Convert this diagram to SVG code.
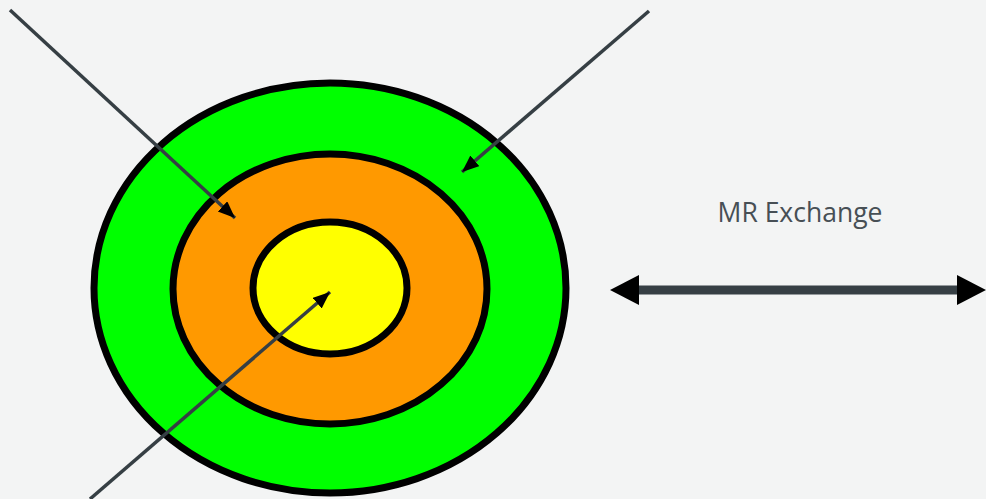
<svg xmlns="http://www.w3.org/2000/svg" width="986" height="499" viewBox="0 0 986 499">
<style>
.ring{stroke:#000;stroke-width:7}
.conn{stroke:#363f44;stroke-width:3.5;fill:none}
.big{stroke:#363f44;stroke-width:9;fill:none}
.lbl{font-family:"Open Sans","Liberation Sans",sans-serif;font-size:26.5px;fill:#474f55}
</style>
<defs>
<marker id="ah" markerUnits="userSpaceOnUse" markerWidth="18" markerHeight="16" viewBox="0 0 18 16" refX="17" refY="7" orient="auto">
<path d="M0,0 L17,7 L0,14 z" fill="#000"/>
</marker>
<marker id="bh" markerUnits="userSpaceOnUse" markerWidth="30" markerHeight="31" viewBox="0 0 30 31" refX="15" refY="15" orient="auto-start-reverse">
<path d="M0,0 L29,15 L0,30 z" fill="#000"/>
</marker>
</defs>
<rect width="986" height="499" fill="#f3f4f4"/>
<g id="outer"><ellipse class="ring" cx="330" cy="288" rx="236" ry="205" fill="#00ff00"/></g>
<g id="middle"><ellipse class="ring" cx="330" cy="289" rx="157" ry="135" fill="#ff9900"/></g>
<g id="inner"><ellipse class="ring" cx="330" cy="288" rx="77" ry="66" fill="#ffff00"/></g>
<g id="connectors">
<line class="conn" x1="10" y1="10" x2="235" y2="218" marker-end="url(#ah)"/>
<line class="conn" x1="649" y1="11" x2="462" y2="172" marker-end="url(#ah)"/>
<line class="conn" x1="90" y1="499" x2="330" y2="292" marker-end="url(#ah)"/>
<line class="big" x1="624" y1="290" x2="972" y2="290" marker-start="url(#bh)" marker-end="url(#bh)"/>
</g>
<g id="label"><text class="lbl" x="800" y="222" text-anchor="middle">MR Exchange</text></g>
</svg>
